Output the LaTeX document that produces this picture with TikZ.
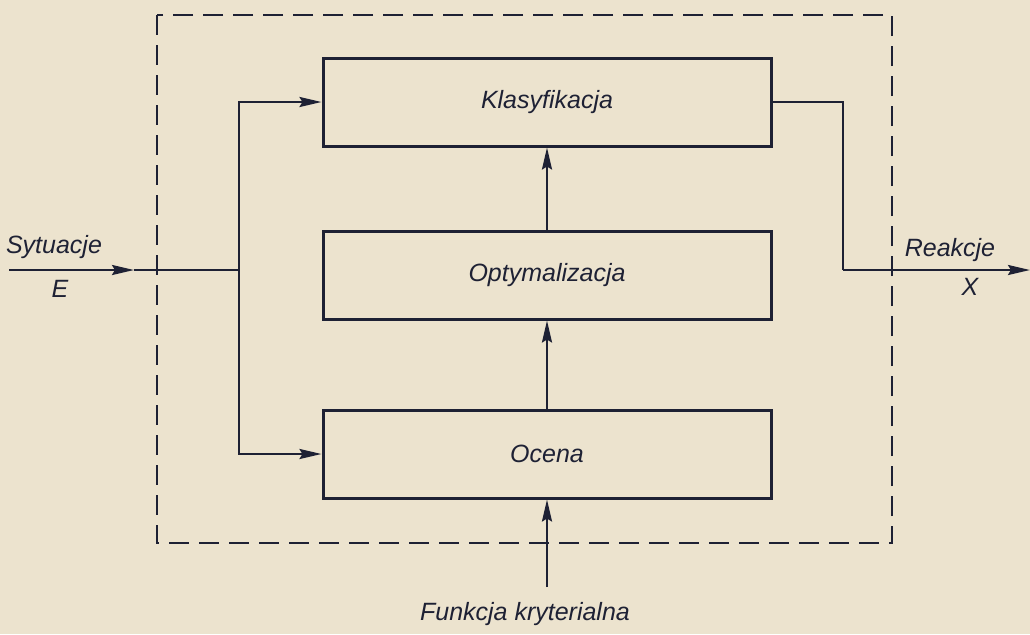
\documentclass[tikz,border=0pt]{standalone}
\usepackage{fontspec}
\setmainfont{Liberation Sans}
\usetikzlibrary{arrows.meta,positioning}
\definecolor{paper}{RGB}{236,227,206}
\definecolor{ink}{RGB}{30,33,52}

\begin{document}
\begin{tikzpicture}[x=0.5pt,y=-0.5pt,>={Stealth[length=11pt,width=5pt,inset=1.5pt]}, every node/.style={font=\itshape\fontsize{12.5}{15}\selectfont,text=ink}]
    \tikzset{block/.style={draw=ink,line width=1.5pt,minimum width=224pt,minimum height=44pt}}
    \tikzset{wire/.style={ink,line width=1.2pt}}
    \tikzset{frame/.style={ink,line width=1.3pt,dash pattern=on 10pt off 5pt}}
    \tikzset{tag/.style={inner sep=0pt,anchor=base}}

    % paper
    \useasboundingbox (0,0) rectangle (1030,634);
    \fill[paper] (0,0) rectangle (1030,634);

    % system boundary
    \draw[frame] (157,15) rectangle (892,543);

    % blocks
    \node[block] (klas) at (547,102) {Klasyfikacja};
    \node[block] (opt) at (547,275) {Optymalizacja};
    \node[block] (ocena) at (547,454) {Ocena};

    % input E
    \coordinate (sin) at (9,270);
    \coordinate (sarr) at (134,270);
    \coordinate (split) at (239,270);
    \node[tag] (sytlbl) at (54,253) {Sytuacje};
    \node[tag] (elbl) at (60,297) {E};
    \draw[wire,->] (sin) -- (sarr);
    \draw[wire] (sarr) -- (split);
    \draw[wire,->] (split) |- (klas.west);
    \draw[wire,->] (split) |- (ocena.west);

    % inner links
    \draw[wire,->] (ocena.north) -- (opt.south);
    \draw[wire,->] (opt.north) -- (klas.south);

    % output X
    \coordinate (turn) at (843,270);
    \coordinate (sout) at (1030,270);
    \node[tag] (reaklbl) at (950,256) {Reakcje};
    \node[tag] (xlbl) at (970,295) {X};
    \draw[wire] (klas.east) -| (turn);
    \draw[wire,->] (turn) -- (sout);

    % criterion
    \coordinate (crit) at (547,587);
    \node[tag] (critlbl) at (525,620) {Funkcja kryterialna};
    \draw[wire,->] (crit) -- (ocena.south);
\end{tikzpicture}
\end{document}
